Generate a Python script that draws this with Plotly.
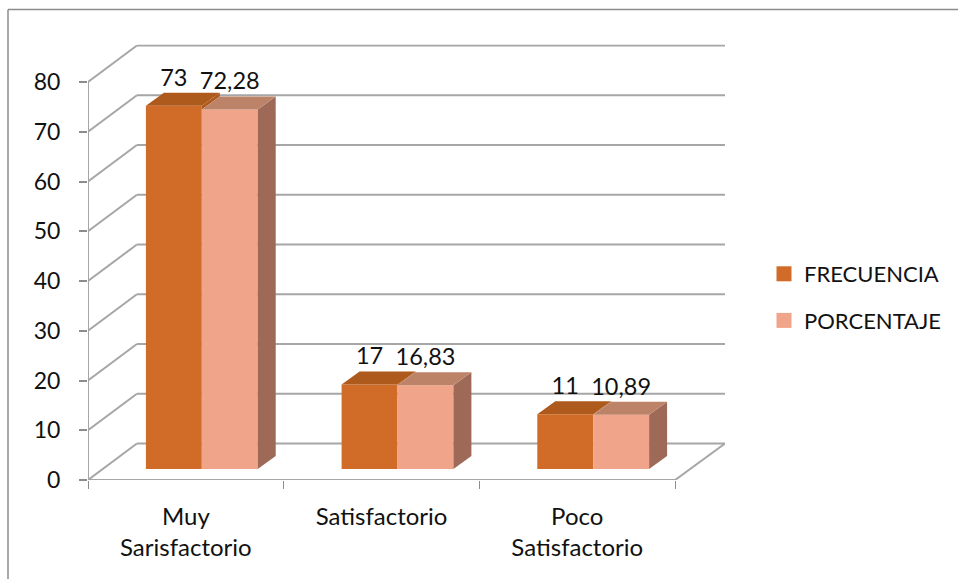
import plotly.graph_objects as go

categories = ["Muy<br>Sarisfactorio", "Satisfactorio", "Poco<br>Satisfactorio"]
frecuencia = [73, 17, 11]
porcentaje = [72.28, 16.83, 10.89]
y_ticks = [0, 10, 20, 30, 40, 50, 60, 70, 80]

W, H = 958, 579
PX_X = 196.0      # px per category
PX_Y = 4.975      # px per value unit
X0, Y0 = 88, 480  # front origin
WALL_DX, WALL_DY = 49 / PX_X, 36.5 / PX_Y
BAR_LEFT, BAR_W = -40 / PX_X, 56 / PX_X
BAR_BASE = 11 / PX_Y
DEPTH_DX, DEPTH_DY = 18 / PX_X, 13 / PX_Y
LABEL_UP = 26 / PX_Y

XMIN, XMAX = -0.5, 2.5 + 50 / PX_X
YMAX = (480 - 44.5) / PX_Y
GRID = "#a6a6a6"
FONT = "Lato"

xs = list(range(len(categories)))
fig = go.Figure()

series = [
    ("FRECUENCIA", frecuencia, 0, "#D06C28", "#AE5A1C"),
    ("PORCENTAJE", porcentaje, 1, "#F0A58A", "#BC8368"),
]
for name, vals, k, col, top in series:
    left = BAR_LEFT + k * BAR_W
    fig.add_trace(go.Bar(x=xs, y=vals, base=BAR_BASE, width=BAR_W, offset=left,
                         marker=dict(color=col, line_width=0), showlegend=False,
                         name=name, hoverinfo="skip"))

# the part of the first bar's side that rises above the second bar
for i, v, p in zip(xs, frecuencia, porcentaje):
    b = i + BAR_LEFT + BAR_W
    yf, yp = BAR_BASE + v, BAR_BASE + p
    fig.add_trace(go.Scatter(
        x=[b, b + DEPTH_DX, b + DEPTH_DX, b, b],
        y=[yp, yp + DEPTH_DY, yf + DEPTH_DY, yf, yp],
        fill="toself", fillcolor="#AE5A1C", mode="none", showlegend=False, hoverinfo="skip"))

# right side of the second bar
for i, v in zip(xs, porcentaje):
    b = i + BAR_LEFT + 2 * BAR_W
    yt = BAR_BASE + v
    fig.add_trace(go.Scatter(
        x=[b, b + DEPTH_DX, b + DEPTH_DX, b, b],
        y=[BAR_BASE, BAR_BASE + DEPTH_DY, yt + DEPTH_DY, yt, BAR_BASE],
        fill="toself", fillcolor="#9E6A57", mode="none", showlegend=False, hoverinfo="skip"))

# top faces
for name, vals, k, col, top in series:
    left = BAR_LEFT + k * BAR_W
    for i, v in zip(xs, vals):
        a, b = i + left, i + left + BAR_W
        yt = BAR_BASE + v
        fig.add_trace(go.Scatter(
            x=[a, b, b + DEPTH_DX, a + DEPTH_DX, a],
            y=[yt, yt, yt + DEPTH_DY, yt + DEPTH_DY, yt],
            fill="toself", fillcolor=top, mode="none", showlegend=False, hoverinfo="skip"))

# data labels
for name, vals, k, col, top in series:
    fig.add_trace(go.Scatter(
        x=[i + BAR_LEFT + (k + 0.5) * BAR_W for i in xs],
        y=[BAR_BASE + v + LABEL_UP for v in vals],
        mode="text", text=[f"{v:g}".replace(".", ",") for v in vals],
        textposition="middle center", textfont=dict(family=FONT, size=23.5, color="#111111"),
        showlegend=False, hoverinfo="skip"))

# legend entries
for name, vals, k, col, top in series:
    fig.add_trace(go.Scatter(x=[None], y=[None], mode="markers", name=name, legendgroup=name,
                             marker=dict(symbol="square", size=15, color=col)))

shapes = []
def seg(x0, y0, x1, y1, w=2, c=GRID):
    shapes.append(dict(type="line", xref="x", yref="y", x0=x0, y0=y0, x1=x1, y1=y1,
                       layer="below", line=dict(color=c, width=w)))

for t in y_ticks:
    seg(XMIN, t, XMIN + WALL_DX, t + WALL_DY)
    seg(XMIN + WALL_DX, t + WALL_DY, XMAX, t + WALL_DY)
seg(XMIN, 0, XMIN, y_ticks[-1])
seg(XMIN, 0, 2.5, 0)
seg(2.5, 0, XMAX, WALL_DY)

# outer frame
for x0, y0, x1, y1 in [(8, 9.5, W, 9.5), (8, 9.5, 8, H)]:
    shapes.append(dict(type="line", xref="paper", yref="paper",
                       x0=x0 / W, x1=x1 / W, y0=1 - y0 / H, y1=1 - y1 / H,
                       layer="below", line=dict(color="#8c8c8c", width=1.5)))

fig.update_layout(
    width=W, height=H, autosize=False,
    margin=dict(l=0, r=0, t=0, b=0),
    paper_bgcolor="white", plot_bgcolor="white",
    barmode="overlay", shapes=shapes,
    font=dict(family=FONT, size=22, color="#111111"),
    xaxis=dict(domain=[X0 / W, 725 / W], range=[XMIN, XMAX], showgrid=False, zeroline=False,
               automargin=False,
               tickvals=xs, ticktext=categories, ticks="", showline=False,
               ticklabelstandoff=20, tickfont=dict(family=FONT, size=24, color="#111111"),
               minor=dict(tickvals=[-0.5, 0.5, 1.5, 2.5], ticks="outside", ticklen=8,
                          tickwidth=1, tickcolor="#8c8c8c", showgrid=False)),
    yaxis=dict(domain=[(H - Y0) / H, (H - 44.5) / H], range=[0, YMAX], showgrid=False, zeroline=False,
               automargin=False,
               tickvals=y_ticks, ticks="outside", ticklen=8, tickwidth=1.5, tickcolor="#8c8c8c",
               showline=False, ticklabelstandoff=14,
               tickfont=dict(family=FONT, size=23, color="#111111")),
    legend=dict(x=774 / W, xanchor="left", y=1 - 253 / H, yanchor="top", indentation=-10,
                bgcolor="rgba(0,0,0,0)", traceorder="grouped", tracegroupgap=15,
                font=dict(family=FONT, size=22, color="#111111"), itemwidth=30),
    hovermode=False,
)

fig.write_html("out.html", default_width="958px", default_height="579px",
               post_script="document.body.style.margin='0';",
               config=dict(displayModeBar=False, responsive=False))
